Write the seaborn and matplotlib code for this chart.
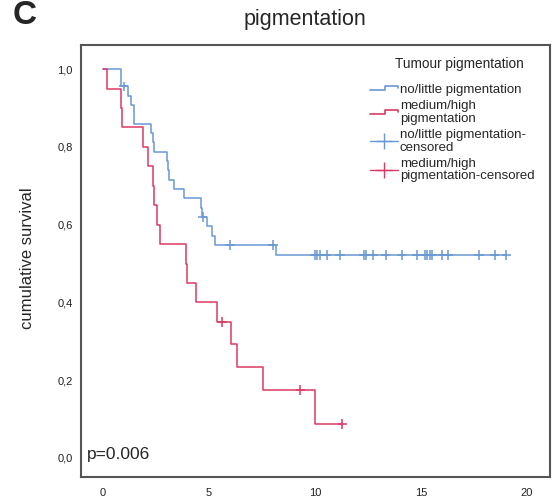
import matplotlib
matplotlib.use("Agg")
import matplotlib.pyplot as plt
import numpy as np
import pandas as pd
import seaborn as sns
from matplotlib.legend_handler import HandlerBase
from matplotlib.lines import Line2D

# Kaplan-Meier steps: drop time (years) and survival after the drop
low_t = [0, 0.83, 1.2, 1.32, 1.45, 1.48, 2.25, 2.37, 2.40, 3.0, 3.08, 3.12,
         3.33, 3.8, 4.62, 4.65, 4.89, 5.13, 5.3, 8.16, 19.04]
low_s = [1.0, 0.956, 0.932, 0.908, 0.884, 0.860, 0.836, 0.812, 0.788, 0.764,
         0.740, 0.716, 0.692, 0.668, 0.644, 0.620, 0.596, 0.572, 0.548, 0.522, 0.522]

high_t = [0, 0.17, 0.85, 0.9, 1.87, 2.14, 2.37, 2.40, 2.53, 2.69, 3.92, 3.96,
          4.39, 5.36, 6.02, 6.32, 7.53, 10.0, 11.3]
high_s = [1.0, 0.95, 0.90, 0.85, 0.80, 0.75, 0.70, 0.65, 0.60, 0.55, 0.50, 0.45,
          0.40, 0.35, 0.292, 0.233, 0.175, 0.0875, 0.0875]

# censored observations
low_cens_t = [0.97, 4.7, 6.0, 8.03, 10.0, 10.1, 10.24, 10.55, 11.18, 12.31, 12.4,
              12.75, 13.35, 14.1, 14.8, 15.19, 15.3, 15.42, 15.53, 16.02, 16.29,
              17.75, 18.49, 19.04]
low_cens_s = [0.956, 0.620, 0.548, 0.548] + [0.522] * 20
high_cens_t = [5.63, 9.32, 11.3]
high_cens_s = [0.35, 0.175, 0.0875]

groups = ["no/little pigmentation", "medium/high\npigmentation"]
legend_labels = ["no/little pigmentation", "medium/high\npigmentation",
                 "no/little pigmentation-\ncensored",
                 "medium/high\npigmentation-censored"]
x_ticks = [0, 5, 10, 15, 20]
y_ticks = [0.0, 0.2, 0.4, 0.6, 0.8, 1.0]
y_ticklabels = ["0,0", "0,2", "0,4", "0,6", "0,8", "1,0"]

blue = "#6a98d3"
red = "#dc3a62"

steps = pd.concat([
    pd.DataFrame({"time": low_t, "surv": low_s, "group": groups[0]}),
    pd.DataFrame({"time": high_t, "surv": high_s, "group": groups[1]}),
], ignore_index=True)
cens = pd.concat([
    pd.DataFrame({"time": low_cens_t, "surv": low_cens_s, "group": groups[0]}),
    pd.DataFrame({"time": high_cens_t, "surv": high_cens_s, "group": groups[1]}),
], ignore_index=True)
palette = {groups[0]: blue, groups[1]: red}

sns.set_style("white")
plt.rcParams["font.family"] = ["Liberation Sans", "DejaVu Sans"]

fig = plt.figure(figsize=(5.55, 5.0), dpi=100)
ax = fig.add_axes([81 / 555, 1 - 477 / 500, (550 - 81) / 555, (477 - 45) / 500])

sns.lineplot(data=steps, x="time", y="surv", hue="group", palette=palette,
             drawstyle="steps-post", estimator=None, sort=False, lw=1.1,
             legend=False, ax=ax)
sns.scatterplot(data=cens, x="time", y="surv", hue="group", palette=palette,
                marker="+", s=45, linewidth=1.1, legend=False, ax=ax)

ax.set_xlim(-1.04, 21.1)
ax.set_ylim(-0.049, 1.062)
ax.set_xticks(x_ticks)
ax.set_yticks(y_ticks)
ax.set_yticklabels(y_ticklabels)
ax.tick_params(axis="both", length=0, labelsize=8, colors="#222222")
ax.tick_params(axis="y", pad=6)
ax.tick_params(axis="x", pad=8)
ax.set_xlabel("")
ax.set_ylabel("")
for sp in ax.spines.values():
    sp.set_color("#555555")
    sp.set_linewidth(1.5)

ax.text(0.012, 0.035, "p=0.006", transform=ax.transAxes, fontsize=12.5,
        ha="left", va="bottom")

fig.text(28 / 555, 1 - 258 / 500, "cumulative survival", rotation=90,
         ha="center", va="center", fontsize=12)
fig.text(305 / 555, 1 - 19 / 500, "pigmentation", ha="center", va="center",
         fontsize=15.5)
fig.text(13 / 555, 1 - 16 / 500, "C", ha="left", va="center", fontsize=24,
         fontweight="bold")


class StepHandler(HandlerBase):
    def create_artists(self, legend, orig_handle, xdescent, ydescent, width,
                       height, fontsize, trans):
        x = np.array([0, 0.55, 0.55, 1.0, 1.0]) * width - xdescent
        y = np.array([0.3, 0.3, 0.75, 0.75, 0.5]) * height - ydescent
        ln = Line2D(x, y, color=orig_handle.get_color(), lw=1.2)
        ln.set_transform(trans)
        return [ln]


h_low = Line2D([], [], color=blue)
h_high = Line2D([], [], color=red)
h_low_c = Line2D([], [], color=blue, marker="+", markersize=11, lw=1)
h_high_c = Line2D([], [], color=red, marker="+", markersize=11, lw=1)
leg = ax.legend([h_low, h_high, h_low_c, h_high_c], legend_labels,
                handler_map={h_low: StepHandler(), h_high: StepHandler()},
                fontsize=9.5, frameon=False, loc="upper right",
                bbox_to_anchor=(541 / 555, 1 - 77 / 500),
                bbox_transform=fig.transFigure, borderpad=0,
                labelspacing=0.3, handlelength=2.1, handletextpad=0.15)
for t in leg.get_texts():
    t.set_linespacing(1.1)

fig.text(459 / 555, 1 - 64 / 500, "Tumour pigmentation", ha="center",
         va="center", fontsize=9.8)

fig.savefig("out.png", dpi=100)
